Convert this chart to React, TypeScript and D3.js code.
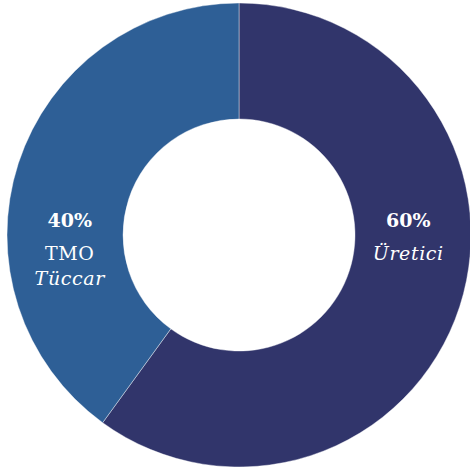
import { useMemo } from 'react';
import * as d3 from 'd3';

const labels = ['Üretici', 'TMO Tüccar'];
const values = [60, 40];
const colors = ['#31356B', '#2E5F96'];
const labelLines = [['Üretici'], ['TMO', 'Tüccar']];
const lineItalic = [[true], [false, true]];

const W = 470;
const H = 470;
const cx = 239;
const cy = 235;
const outerR = 232;
const innerR = 116;

export default function App() {
  const arcs = useMemo(() => d3.pie<number>().sort(null).value((d) => d)(values), []);
  const arc = d3.arc<d3.PieArcDatum<number>>().innerRadius(innerR).outerRadius(outerR);
  const labelArc = d3.arc<d3.PieArcDatum<number>>().innerRadius(178).outerRadius(178);
  const total = d3.sum(values);

  return (
    <svg width={W} height={H} style={{ position: 'fixed', left: 0, top: 0, background: '#fff' }}>
      <g transform={`translate(${cx},${cy})`}>
        {arcs.map((a, i) => (
          <path key={labels[i]} d={arc(a) ?? ''} fill={colors[i]} stroke="#ffffff" strokeOpacity={0.5} strokeWidth={0.8} />
        ))}
        {arcs.map((a, i) => {
          const [x] = labelArc.centroid(a);
          const pct = `${Math.round((values[i] / total) * 100)}%`;
          return (
            <g key={'l' + i} transform={`translate(${x},${-8})`} fill="#ffffff" fontFamily="'DejaVu Serif', serif" textAnchor="middle">
              <text y={0} fontSize={19} fontWeight="bold">{pct}</text>
              {labelLines[i].map((t, j) => (
                <text key={t} y={33 + j * 24.5} fontSize={19} fontStyle={lineItalic[i][j] ? 'italic' : 'normal'} letterSpacing={0.6}>{t}</text>
              ))}
            </g>
          );
        })}
      </g>
    </svg>
  );
}
